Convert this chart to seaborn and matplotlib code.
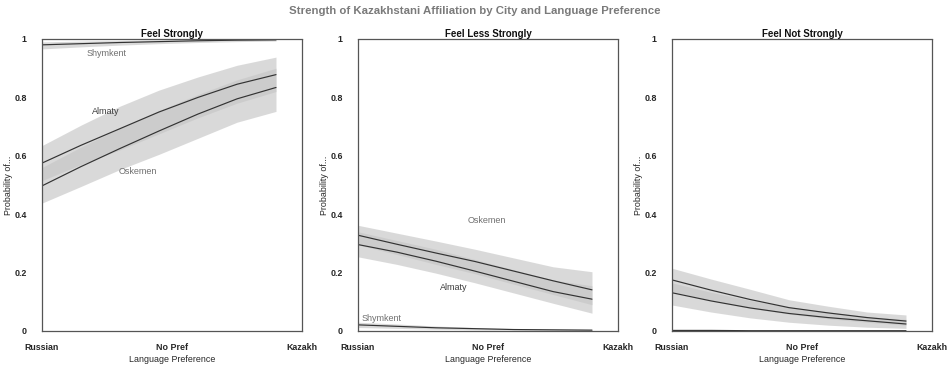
import numpy as np
import pandas as pd
import matplotlib
matplotlib.use("Agg")
import matplotlib.pyplot as plt
import seaborn as sns

sns.set_theme(style="white")
plt.rcParams["font.family"] = ["Liberation Sans", "DejaVu Sans"]

# Language-preference positions (0 = Russian, 0.5 = No Pref, 1 = Kazakh)
lang_pos = [0.0, 0.15, 0.30, 0.45, 0.60, 0.75, 0.90]
tick_pos = [0.0, 0.25, 0.5, 0.75, 1.0]
tick_labels = ["Russian", "", "No Pref", "", "Kazakh"]
y_ticks = [0, 0.2, 0.4, 0.6, 0.8, 1]
y_tick_labels = ["0", "0.2", "0.4", "0.6", "0.8", "1"]

outcomes = ["Feel Strongly", "Feel Less Strongly", "Feel Not Strongly"]
cities = ["Almaty", "Oskemen", "Shymkent"]

# Predicted probabilities with confidence bounds, per outcome and city
strong_almaty = [0.575, 0.636, 0.693, 0.750, 0.800, 0.845, 0.878]
strong_almaty_lo = [0.515, 0.570, 0.620, 0.675, 0.730, 0.780, 0.820]
strong_almaty_hi = [0.635, 0.705, 0.770, 0.825, 0.870, 0.910, 0.938]
strong_oskemen = [0.497, 0.563, 0.625, 0.685, 0.743, 0.795, 0.834]
strong_oskemen_lo = [0.438, 0.495, 0.553, 0.605, 0.660, 0.715, 0.752]
strong_oskemen_hi = [0.560, 0.630, 0.695, 0.755, 0.810, 0.860, 0.900]
strong_shymkent = [0.980, 0.984, 0.988, 0.991, 0.994, 0.996, 0.997]
strong_shymkent_lo = [0.966, 0.973, 0.979, 0.984, 0.988, 0.991, 0.993]
strong_shymkent_hi = [0.990, 0.993, 0.995, 0.997, 0.998, 0.999, 0.999]

less_almaty = [0.296, 0.270, 0.239, 0.205, 0.170, 0.135, 0.109]
less_almaty_lo = [0.254, 0.228, 0.198, 0.165, 0.130, 0.095, 0.061]
less_almaty_hi = [0.340, 0.310, 0.280, 0.245, 0.210, 0.175, 0.155]
less_oskemen = [0.328, 0.297, 0.267, 0.238, 0.205, 0.172, 0.141]
less_oskemen_lo = [0.295, 0.262, 0.228, 0.196, 0.160, 0.125, 0.090]
less_oskemen_hi = [0.362, 0.335, 0.308, 0.280, 0.250, 0.220, 0.203]
less_shymkent = [0.021, 0.016, 0.011, 0.008, 0.005, 0.004, 0.003]
less_shymkent_lo = [0.012, 0.009, 0.006, 0.004, 0.003, 0.002, 0.001]
less_shymkent_hi = [0.030, 0.024, 0.017, 0.012, 0.008, 0.006, 0.005]

not_almaty = [0.131, 0.103, 0.079, 0.060, 0.046, 0.035, 0.024]
not_almaty_lo = [0.089, 0.065, 0.045, 0.030, 0.020, 0.013, 0.009]
not_almaty_hi = [0.165, 0.133, 0.105, 0.082, 0.065, 0.050, 0.040]
not_oskemen = [0.175, 0.140, 0.108, 0.080, 0.062, 0.046, 0.034]
not_oskemen_lo = [0.135, 0.105, 0.078, 0.058, 0.042, 0.030, 0.020]
not_oskemen_hi = [0.215, 0.178, 0.143, 0.107, 0.085, 0.065, 0.055]
not_shymkent = [0.002, 0.002, 0.001, 0.001, 0.001, 0.001, 0.001]
not_shymkent_lo = [0.000, 0.000, 0.000, 0.000, 0.000, 0.000, 0.000]
not_shymkent_hi = [0.004, 0.003, 0.002, 0.002, 0.001, 0.001, 0.001]

series = {
    "Feel Strongly": {
        "Almaty": (strong_almaty, strong_almaty_lo, strong_almaty_hi),
        "Oskemen": (strong_oskemen, strong_oskemen_lo, strong_oskemen_hi),
        "Shymkent": (strong_shymkent, strong_shymkent_lo, strong_shymkent_hi),
    },
    "Feel Less Strongly": {
        "Almaty": (less_almaty, less_almaty_lo, less_almaty_hi),
        "Oskemen": (less_oskemen, less_oskemen_lo, less_oskemen_hi),
        "Shymkent": (less_shymkent, less_shymkent_lo, less_shymkent_hi),
    },
    "Feel Not Strongly": {
        "Almaty": (not_almaty, not_almaty_lo, not_almaty_hi),
        "Oskemen": (not_oskemen, not_oskemen_lo, not_oskemen_hi),
        "Shymkent": (not_shymkent, not_shymkent_lo, not_shymkent_hi),
    },
}

# City labels placed inside each panel (data coordinates)
city_labels = {
    "Feel Strongly": [("Shymkent", 0.25, 0.95), ("Almaty", 0.245, 0.75), ("Oskemen", 0.37, 0.545)],
    "Feel Less Strongly": [("Oskemen", 0.495, 0.377), ("Almaty", 0.37, 0.15), ("Shymkent", 0.09, 0.044)],
    "Feel Not Strongly": [],
}
label_colors = {"Almaty": "#3c3c3c", "Oskemen": "#707070", "Shymkent": "#707070"}

rows = []
for outcome in outcomes:
    for city in cities:
        mean, lo, hi = series[outcome][city]
        for x, m, l, h in zip(lang_pos, mean, lo, hi):
            rows.append(dict(outcome=outcome, city=city, lang=x, prob=m, lo=l, hi=h))
df = pd.DataFrame(rows)

fig = plt.figure(figsize=(9.49, 3.70), dpi=100)
lefts = [42 / 949, 358 / 949, 672 / 949]
axes = [fig.add_axes([l, 39 / 370, 260 / 949, 292 / 370]) for l in lefts]

line_color = "#333333"
frame_color = "#555555"

for ax, outcome in zip(axes, outcomes):
    sub = df[df.outcome == outcome]
    for city in cities:
        c = sub[sub.city == city]
        ax.fill_between(c["lang"], c["lo"], c["hi"], color="#c6c6c6", alpha=0.65, linewidth=0)
    sns.lineplot(data=sub, x="lang", y="prob", hue="city",
                 palette={c: line_color for c in cities},
                 linewidth=0.85, legend=False, ax=ax)
    for name, lx, ly in city_labels[outcome]:
        ax.text(lx, ly, name, fontsize=6.5, color=label_colors[name],
                ha="center", va="center")

    ax.set_xlim(0, 1)
    ax.set_ylim(0, 1)
    ax.set_xticks(tick_pos)
    ax.set_xticklabels(tick_labels, fontsize=6.4, fontweight="bold")
    ax.set_yticks(y_ticks)
    ax.set_yticklabels(y_tick_labels, fontsize=6.4, fontweight="bold")
    ax.tick_params(axis="y", direction="out", length=4, width=0.6, color=frame_color, pad=7)
    ax.tick_params(axis="x", direction="out", length=2.5, width=0.6, color=frame_color, pad=6)
    for sp in ax.spines.values():
        sp.set_visible(True)
        sp.set_color(frame_color)
        sp.set_linewidth(0.9)
        sp.set_linestyle((0, (2.5, 1)))
    ax.set_xlabel("Language Preference", fontsize=6.4, labelpad=2)
    ax.set_ylabel("Probability of...", fontsize=6.4, labelpad=1)
    ax.set_title(outcome, fontsize=7.0, pad=1.5, color="#111111", fontweight="bold")
    ax.grid(False)
    ax.set_facecolor("white")

fig.suptitle("Strength of Kazakhstani Affiliation by City and Language Preference",
             x=0.5, y=0.985, fontsize=8.2, fontweight="bold", color="#7a7a7a")

fig.savefig("out.png", dpi=100, facecolor="white")
